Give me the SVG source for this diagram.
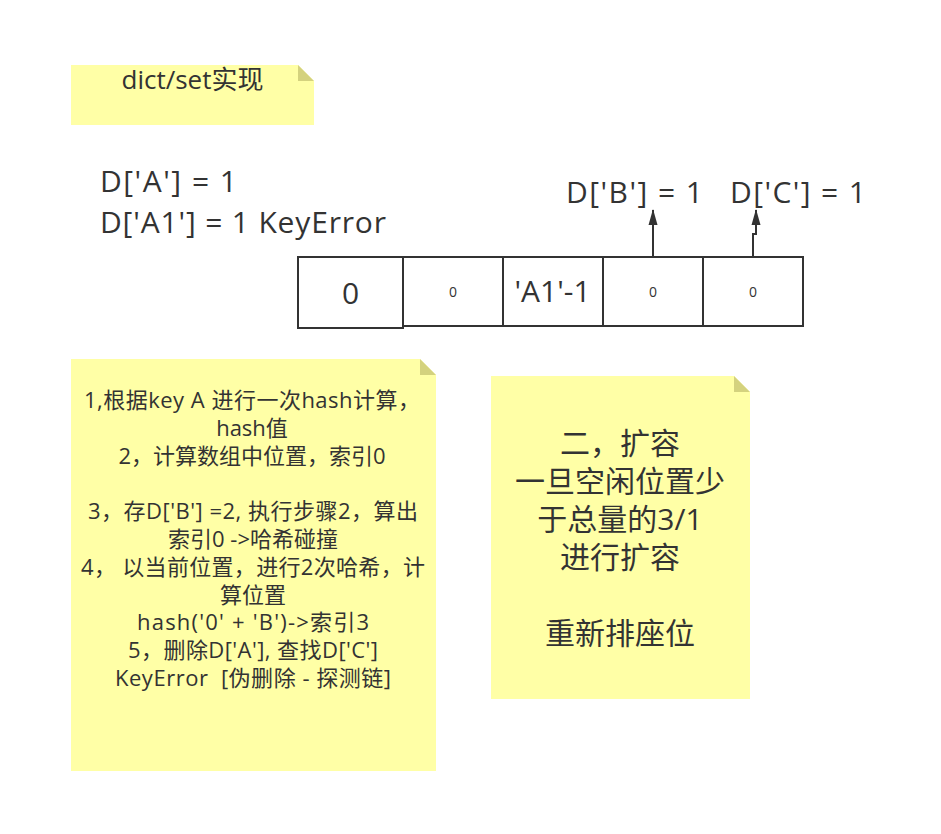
<svg xmlns="http://www.w3.org/2000/svg" width="941" height="834" viewBox="0 0 941 834">
<defs>
<style>
text{font-family:"Open Sans","Noto Sans CJK SC",sans-serif;fill:#333333}
.note{fill:#ffffa6}
.fold{fill:#d4d27e}
.cell{fill:#ffffff;stroke:#333333;stroke-width:2}
.conn{stroke:#333333;stroke-width:2;fill:none}
.c{text-anchor:middle}
</style>
<marker id="ah" markerWidth="16" markerHeight="10" refX="15" refY="4.5" orient="auto" markerUnits="userSpaceOnUse" viewBox="0 0 16 9">
<path d="M0,0 L16,4.5 L0,9 Z" fill="#333333"/>
</marker>
</defs>
<rect width="941" height="834" fill="#ffffff"/>

<g id="note-title">
<path class="note" d="M71,65 H298 L314,81 V125 H71 Z"/>
<path class="fold" d="M298,65 L314,81 H298 Z"/>
<text class="c" x="192.5" y="89" font-size="26">dict/set实现</text>
</g>

<g id="label-a">
<text x="100" y="192" font-size="30" textLength="137" lengthAdjust="spacing">D['A'] = 1</text>
<text x="100" y="233" font-size="30" textLength="286" lengthAdjust="spacing">D['A1'] = 1 KeyError</text>
</g>

<g id="cell0">
<rect class="cell" x="298" y="257" width="105" height="71"/>
<text class="c" x="350.5" y="304" font-size="30">0</text>
</g>
<g id="cell1">
<rect class="cell" x="403" y="257" width="100" height="69"/>
<text class="c" x="453" y="297" font-size="14">0</text>
</g>
<g id="cell2">
<rect class="cell" x="503" y="257" width="100" height="69"/>
<text class="c" x="552.5" y="302" font-size="30">'A1'-1</text>
</g>
<g id="cell3">
<rect class="cell" x="603" y="257" width="100" height="69"/>
<text class="c" x="653" y="297" font-size="14">0</text>
</g>
<g id="cell4">
<rect class="cell" x="703" y="257" width="100" height="69"/>
<text class="c" x="753" y="297" font-size="14">0</text>
</g>

<g id="label-b">
<text x="566" y="203" font-size="30" textLength="137" lengthAdjust="spacing">D['B'] = 1</text>
</g>
<g id="label-c">
<text x="730" y="203" font-size="30" textLength="136" lengthAdjust="spacing">D['C'] = 1</text>
</g>

<g id="connectors">
<path class="conn" d="M653,256 V210" marker-end="url(#ah)"/>
<path class="conn" d="M753,256 V234 H756 V210" marker-end="url(#ah)"/>
</g>

<g id="note-steps">
<path class="note" d="M71,359 H420 L436,375 V771 H71 Z"/>
<path class="fold" d="M420,359 L436,375 H420 Z"/>
<g font-size="22">
<text class="c" x="252" y="408" textLength="336" lengthAdjust="spacing">1,根据key A 进行一次hash计算，</text>
<text class="c" x="252" y="436">hash值</text>
<text class="c" x="252" y="463.5">2，计算数组中位置，索引0</text>
<text class="c" x="253" y="519" textLength="330" lengthAdjust="spacing">3，存D['B'] =2, 执行步骤2，算出</text>
<text class="c" x="253" y="547">索引0 -&gt;哈希碰撞</text>
<text class="c" x="253" y="575" textLength="344" lengthAdjust="spacing" xml:space="preserve">4， 以当前位置，进行2次哈希，计</text>
<text class="c" x="253" y="602.5">算位置</text>
<text class="c" x="253" y="630" textLength="232" lengthAdjust="spacing">hash('0' + 'B')-&gt;索引3</text>
<text class="c" x="253" y="658" textLength="250" lengthAdjust="spacing">5，删除D['A'], 查找D['C']</text>
<text class="c" x="253" y="686" textLength="276" lengthAdjust="spacing" xml:space="preserve">KeyError  [伪删除 - 探测链]</text>
</g>
</g>

<g id="note-resize">
<path class="note" d="M491,376 H734 L750,392 V699 H491 Z"/>
<path class="fold" d="M734,376 L750,392 H734 Z"/>
<g font-size="30">
<text class="c" x="620" y="454">二，扩容</text>
<text class="c" x="620" y="492">一旦空闲位置少</text>
<text class="c" x="620" y="530">于总量的3/1</text>
<text class="c" x="620" y="568">进行扩容</text>
<text class="c" x="620" y="644">重新排座位</text>
</g>
</g>
</svg>
